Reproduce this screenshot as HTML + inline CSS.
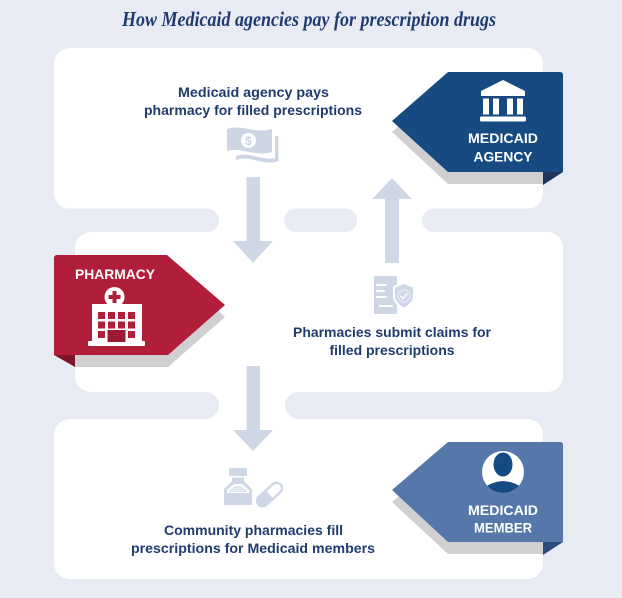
<!DOCTYPE html>
<html>
<head>
<meta charset="utf-8">
<style>
  html,body{margin:0;padding:0;background:#e8ebf4;}
  body{width:622px;height:598px;overflow:hidden;}
  svg{display:block;}
  .t{font-family:"Liberation Sans",Arial,sans-serif;font-weight:bold;font-size:14px;fill:#1f3c6d;}
  .w{font-family:"Liberation Sans",Arial,sans-serif;font-weight:bold;font-size:14px;fill:#ffffff;}
</style>
</head>
<body>
<svg width="622" height="598" viewBox="0 0 622 598" xmlns="http://www.w3.org/2000/svg">
  <defs>
    <clipPath id="av"><circle cx="503" cy="472" r="21"/></clipPath>
  </defs>
  <rect width="622" height="598" fill="#e8ebf4"/>

  <!-- Title -->
  <text x="122" y="26" textLength="374" lengthAdjust="spacingAndGlyphs"
        style="font-family:'Liberation Serif',serif;font-weight:bold;font-style:italic;font-size:21px;fill:#1f3b6e;">How Medicaid agencies pay for prescription drugs</text>

  <!-- Panels -->
  <rect x="54" y="48" width="489" height="161" rx="16" fill="#ffffff"/>
  <rect x="75" y="232" width="488" height="160" rx="16" fill="#ffffff"/>
  <rect x="54" y="419" width="489" height="160" rx="16" fill="#ffffff"/>
  <!-- gap bands (connector whites) -->
  <rect x="200" y="207" width="240" height="26" fill="#ffffff"/>
  <rect x="200" y="391" width="100" height="29" fill="#ffffff"/>
  <!-- background pills row 1 -->
  <rect x="-40" y="208.5" width="259" height="23.5" rx="11.75" fill="#e8ebf4"/>
  <rect x="284" y="208.5" width="73" height="23.5" rx="11.75" fill="#e8ebf4"/>
  <rect x="422" y="208.5" width="260" height="23.5" rx="11.75" fill="#e8ebf4"/>
  <!-- background pills row 2 -->
  <rect x="-40" y="392" width="259" height="27" rx="13.5" fill="#e8ebf4"/>
  <rect x="285" y="392" width="400" height="27" rx="13.5" fill="#e8ebf4"/>

  <!-- Arrows -->
  <g fill="#cfd7e6">
    <rect x="246.5" y="177" width="13.5" height="65"/>
    <polygon points="233,241 273,241 253,263"/>
    <rect x="385" y="198" width="14" height="65"/>
    <polygon points="372,199 412,199 392,178"/>
    <rect x="246.5" y="366" width="13.5" height="65"/>
    <polygon points="233,430 273,430 253,451"/>
  </g>

  <!-- Money icon -->
  <g fill="#cdd5e5">
    <path d="M227,129 C240,124 256,134 272,129 L272,152 C257,157 240,147 227,151 Z"/>
    <rect x="275" y="136" width="3.5" height="25"/>
    <path d="M236,156 C250,151 263,162 278,157.5 L278,161.5 C263,166 250,155 236,160 Z"/>
  </g>
  <circle cx="248.5" cy="140.5" r="7.5" fill="#ffffff"/>
  <text x="248.5" y="145" text-anchor="middle" style="font-family:'Liberation Sans',sans-serif;font-weight:bold;font-size:12px;fill:#cdd5e5;">$</text>

  <!-- Claims icon -->
  <rect x="374" y="276" width="23" height="38" rx="1.5" fill="#cfd7e6"/>
  <g stroke="#ffffff" stroke-width="2" stroke-linecap="round">
    <line x1="377" y1="285" x2="386" y2="285"/>
    <line x1="377" y1="291" x2="384" y2="291"/>
    <line x1="377" y1="297" x2="386" y2="297"/>
    <line x1="380" y1="306" x2="392" y2="306"/>
  </g>
  <path d="M404,283 L414,287 L414,296 C414,302 409,306 404,309 C399,306 394,302 394,296 L394,287 Z" fill="#cfd7e6" stroke="#ffffff" stroke-width="2"/>
  <circle cx="404" cy="296" r="6" fill="none" stroke="#e4e9f2" stroke-width="1.5"/>
  <polyline points="400.5,296 403,298.5 407.5,293.5" fill="none" stroke="#ffffff" stroke-width="1.6"/>

  <!-- Pill bottle icon -->
  <g fill="#cfd7e6">
    <rect x="229" y="468" width="18" height="8" rx="1"/>
    <path d="M232,477.5 H244 V481 L252,489 V505 H224 V489 L232,481 Z"/>
  </g>
  <path d="M227,493 V490 L234,484 H242 L249,490 V493 Z" fill="#ffffff"/>
  <path d="M229,492 V491 L235,486 H241 L247,491 V492 Z" fill="#e3e8f1"/>
  <g transform="translate(269.5,494.5) rotate(-42)">
    <rect x="-15" y="-5.5" width="30" height="11" rx="5.5" fill="#ffffff" stroke="#cfd7e6" stroke-width="2.4"/>
    <path d="M0,-5.5 H-9.5 A5.5,5.5 0 0 0 -9.5,5.5 H0 Z" fill="#cfd7e6"/>
  </g>

  <!-- Body texts -->
  <text class="t" x="253.5" y="97" text-anchor="middle" textLength="151" lengthAdjust="spacingAndGlyphs">Medicaid agency pays</text>
  <text class="t" x="253" y="115" text-anchor="middle" textLength="218" lengthAdjust="spacingAndGlyphs">pharmacy for filled prescriptions</text>

  <text class="t" x="392" y="337" text-anchor="middle" textLength="198" lengthAdjust="spacingAndGlyphs">Pharmacies submit claims for</text>
  <text class="t" x="392" y="355" text-anchor="middle" textLength="125" lengthAdjust="spacingAndGlyphs">filled prescriptions</text>

  <text class="t" x="253.5" y="535" text-anchor="middle" textLength="179" lengthAdjust="spacingAndGlyphs">Community pharmacies fill</text>
  <text class="t" x="253" y="553" text-anchor="middle" textLength="244" lengthAdjust="spacingAndGlyphs">prescriptions for Medicaid members</text>

  <!-- Medicaid Agency tag -->
  <polygon points="392,132 448,84 543,84 543,184 448,184" fill="#d0d0d2"/>
  <path d="M448,72 L560,72 Q563,72 563,75 L563,172 L448,172 L392,121 Z" fill="#164a80"/>
  <polygon points="543,172 563,172 543,185" fill="#1e3659"/>
  <!-- bank icon -->
  <g fill="#ffffff">
    <path d="M503,80 L525,91 L525,96 L481,96 L481,91 Z"/>
    <rect x="483" y="98.5" width="6" height="16"/>
    <rect x="493" y="98.5" width="6" height="16"/>
    <rect x="507" y="98.5" width="6" height="16"/>
    <rect x="517" y="98.5" width="6" height="16"/>
    <rect x="480" y="116.5" width="46" height="5" rx="1.5"/>
  </g>
  <text class="w" x="503" y="143" text-anchor="middle" textLength="70" lengthAdjust="spacingAndGlyphs">MEDICAID</text>
  <text class="w" x="503" y="161.5" text-anchor="middle" textLength="59" lengthAdjust="spacingAndGlyphs">AGENCY</text>

  <!-- Pharmacy tag -->
  <polygon points="75,267 167,267 225,317 168,367 75,367" fill="#d0d0d2"/>
  <path d="M57,255 L167,255 L225,305 L168,355 L54,355 L54,258 Q54,255 57,255 Z" fill="#b11e3a"/>
  <polygon points="54,355 75,355 75,367" fill="#7d1427"/>
  <text class="w" x="75" y="279" textLength="80" lengthAdjust="spacingAndGlyphs">PHARMACY</text>
  <!-- hospital icon -->
  <g fill="#ffffff">
    <rect x="92" y="304" width="50" height="38"/>
    <rect x="88" y="341" width="57" height="5" rx="1"/>
    <circle cx="114.5" cy="297" r="10"/>
  </g>
  <g fill="#b11e3a">
    <rect x="112.5" y="291" width="4" height="12"/>
    <rect x="108.5" y="295" width="12" height="4"/>
    <rect x="98" y="312" width="7" height="7"/>
    <rect x="108" y="312" width="7" height="7"/>
    <rect x="118" y="312" width="7" height="7"/>
    <rect x="128" y="312" width="7" height="7"/>
    <rect x="98" y="321.5" width="7" height="7"/>
    <rect x="108" y="321.5" width="7" height="7"/>
    <rect x="118" y="321.5" width="7" height="7"/>
    <rect x="128" y="321.5" width="7" height="7"/>
    <rect x="98" y="331" width="7" height="7"/>
    <rect x="128" y="331" width="7" height="7"/>
  </g>
  <rect x="107.5" y="330" width="18" height="12" fill="#9c1a34"/>

  <!-- Medicaid Member tag -->
  <polygon points="392,502 448,454 543,454 543,554 448,554" fill="#d0d0d2"/>
  <path d="M448,442 L560,442 Q563,442 563,445 L563,542 L448,542 L392,490 Z" fill="#5677a9"/>
  <polygon points="543,542 563,542 543,555" fill="#2f4d7c"/>
  <circle cx="503" cy="472" r="21" fill="#ffffff"/>
  <g clip-path="url(#av)" fill="#164a82">
    <ellipse cx="503" cy="464.5" rx="9.5" ry="12"/>
    <path d="M478,500 C480,487 491,482 503,481 C515,482 526,487 528,500 Z"/>
  </g>
  <text class="w" x="503" y="515" text-anchor="middle" textLength="70" lengthAdjust="spacingAndGlyphs">MEDICAID</text>
  <text class="w" x="503" y="532.5" text-anchor="middle" textLength="58" lengthAdjust="spacingAndGlyphs">MEMBER</text>
</svg>
</body>
</html>
